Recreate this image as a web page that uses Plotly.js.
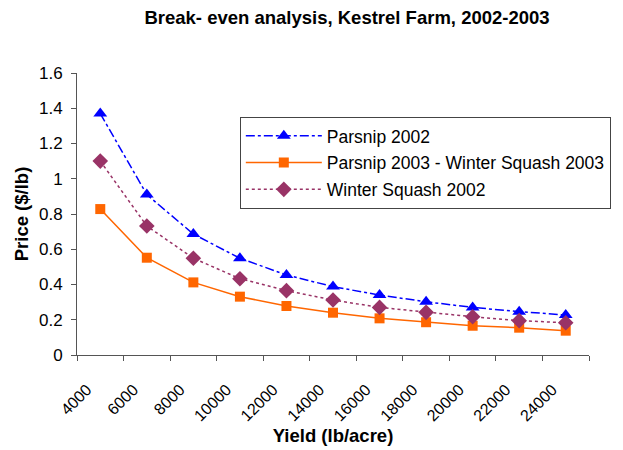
<!DOCTYPE html>
<html><head><meta charset="utf-8">
<script src="https://cdn.plot.ly/plotly-3.0.1.min.js"></script>
<style>body{margin:0;padding:0;background:#fff}#chart{width:623px;height:450px}</style>
</head><body><div id="chart"></div>
<script>
const yieldX = [5000, 7000, 9000, 11000, 13000, 15000, 17000, 19000, 21000, 23000, 25000];
const parsnip2002 = [1.37, 0.91, 0.686, 0.549, 0.454, 0.388, 0.34, 0.302, 0.27, 0.246, 0.227];
const parsnip2003 = [0.828, 0.552, 0.412, 0.331, 0.278, 0.24, 0.208, 0.186, 0.166, 0.155, 0.138];
const squash2002 = [1.10, 0.732, 0.549, 0.433, 0.365, 0.312, 0.27, 0.242, 0.217, 0.195, 0.183];
const xTickVals = [4000, 6000, 8000, 10000, 12000, 14000, 16000, 18000, 20000, 22000, 24000, 26000];
const xTickText = ['4000','6000','8000','10000','12000','14000','16000','18000','20000','22000','24000',''];
const yTickVals = [0, 0.2, 0.4, 0.6, 0.8, 1, 1.2, 1.4, 1.6];

const traces = [
  {x: yieldX, y: parsnip2002, name: 'Parsnip 2002', mode: 'lines+markers', legendgroup: 'a',
   line: {color: '#0000FF', dash: 'dashdot', width: 1.5},
   marker: {symbol: 'triangle-up', size: 12, color: '#0000FF'}},
  {x: yieldX, y: parsnip2003, name: 'Parsnip 2003 - Winter Squash 2003', mode: 'lines+markers', legendgroup: 'b',
   line: {color: '#FF6600', width: 1.5},
   marker: {symbol: 'square', size: 10, color: '#FF6600'}},
  {x: yieldX, y: squash2002, name: 'Winter Squash 2002', mode: 'lines+markers', legendgroup: 'c',
   line: {color: '#993366', dash: 'dot', width: 1.5},
   marker: {symbol: 'diamond', size: 12, color: '#993366'}}
];

const layout = {
  width: 623, height: 450,
  margin: {l: 77, r: 34, t: 73, b: 95},
  paper_bgcolor: '#fff', plot_bgcolor: '#fff',
  font: {family: 'Arial, Liberation Sans, sans-serif', size: 17, color: '#000'},
  title: {text: '<b>Break- even analysis, Kestrel Farm, 2002-2003</b>', x: 0.557, xanchor: 'center', y: 0.96, yanchor: 'middle',
          font: {size: 18.5, color: '#000'}},
  xaxis: {range: [4000, 26000], tickvals: xTickVals, ticktext: xTickText, tickangle: -45,
          showgrid: false, zeroline: false, showline: true, linecolor: '#555', linewidth: 1,
          ticks: 'outside', ticklen: 5, tickcolor: '#555', tickfont: {size: 16},
          ticklabelshift: 10, ticklabelstandoff: 13,
          title: {text: '<b>Yield (lb/acre)</b>', font: {size: 18.5}, standoff: 5}},
  yaxis: {range: [0, 1.6], tickvals: yTickVals, showgrid: false, zeroline: false,
          showline: true, linecolor: '#555', linewidth: 1, ticks: 'outside', ticklen: 5, tickcolor: '#555',
          tickfont: {size: 17}, ticklabelstandoff: 5,
          title: {text: '<b>Price ($/lb)</b>', font: {size: 18.5}, standoff: 5}},
  legend: {x: 0.318, y: 0.844, xanchor: 'left', yanchor: 'top', bgcolor: '#fff',
           bordercolor: '#444', borderwidth: 1, font: {size: 17.5}, itemwidth: 76,
           traceorder: 'grouped', tracegroupgap: 1},
  showlegend: true
};
Plotly.newPlot('chart', traces, layout, {displayModeBar: false, staticPlot: true});
</script></body></html>
